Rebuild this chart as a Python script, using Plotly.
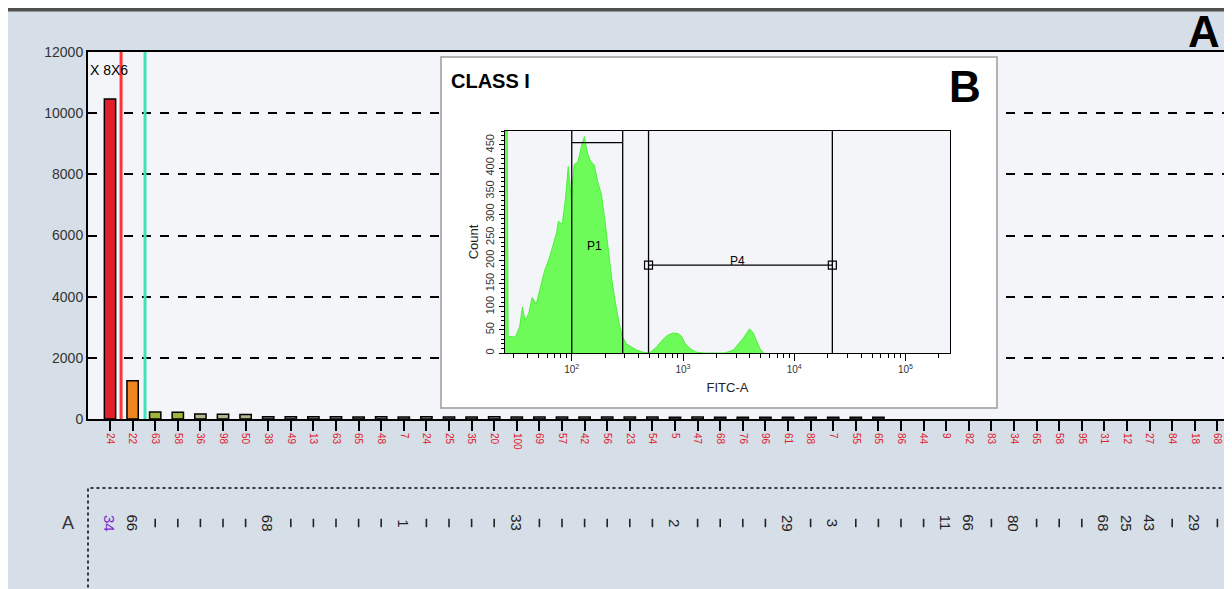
import plotly.graph_objects as go
import numpy as np

# ---------------- main bar chart data ----------------
cat_labels = ["24", "22", "63", "58", "36", "98", "50", "38", "49", "13",
              "63", "65", "48", "7", "24", "25", "35", "20", "100", "69",
              "57", "42", "56", "23", "54", "5", "47", "68", "76", "96",
              "61", "88", "7", "55", "65", "86", "44", "9", "82", "83",
              "34", "65", "58", "95", "31", "12", "27", "84", "18", "68"]
bar_values = [10460, 1250, 225, 220, 160, 155, 150,
              75, 70, 72, 70, 68, 70, 66, 70, 68, 65, 70, 66, 68,
              64, 66, 65, 62, 64, 60, 62, 60, 58, 60, 58, 55, 56, 55, 54,
              None, None, None, None, None, None, None, None, None, None,
              None, None, None, None, None]
bar_colors = (["#e2202a", "#f0861f", "#9fb43a", "#9fb43a",
               "#b3b68e", "#b3b68e", "#b3b68e"] + ["#a8a8a8"] * 43)
y_ticks = [0, 2000, 4000, 6000, 8000, 10000, 12000]
marker_lines = [0.49, 1.55]
marker_colors = ["#ff3333", "#3fe3b5"]

row_idx = [0, 1, 7, 13, 18, 25, 30, 32, 37, 38, 40, 44, 45, 46, 48]
row_text = ["34", "66", "68", "1", "33", "2", "29", "3", "11", "66",
            "80", "68", "25", "43", "29"]

# ---------------- inset histogram data ----------------
fitc = [24.5, 25.2, 26.3, 26.8, 28, 31, 34, 36, 38, 41, 44, 48, 53, 57,
        63, 68, 73, 76, 82, 88, 93, 99, 105, 114, 123, 130, 137, 148, 159,
        171, 185, 199, 214, 230, 248, 267, 287, 309, 345, 386, 431, 500,
        579, 647, 723, 808, 902, 971, 1045, 1167, 1303, 1511, 2353, 2831,
        3162, 3533, 3948, 4250, 4571, 4920, 5297]
counts = [500, 500, 500, 34, 36, 34, 56, 99, 70, 85, 120, 106, 149, 178,
          206, 235, 260, 285, 278, 335, 403, 335, 407, 414, 450, 468, 436,
          414, 407, 371, 342, 285, 221, 156, 106, 63, 34, 20, 13, 6, 2, 0,
          13, 27, 38, 43, 42, 36, 20, 9, 2, 0, 0, 6, 20, 34, 52, 45, 27, 9, 0]
p1_gate = [100, 287]
p1_level = 455
p4_gate = [490, 22000]
p4_level = 190
count_ticks = [0, 50, 100, 150, 200, 250, 300, 350, 400, 450]
fitc_ticks = [100, 1000, 10000, 100000]
fitc_ticktext = ["10<sup>2</sup>", "10<sup>3</sup>", "10<sup>4</sup>", "10<sup>5</sup>"]

FONT = "Liberation Sans, Arial, sans-serif"
W, H = 1232, 589
OFF = 8                      # page body margin
L_M, T_M = 88 - OFF, 52 - OFF
PW = W - L_M
PH = H - T_M
BG = "#d6dee8"


def px2x(px):                # page x -> paper x
    return (px - OFF - L_M) / PW


def py2y(py):                # page y -> paper y
    return (H - (py - OFF)) / PH


def px2i(px):                # page x -> category units
    return (px - 110) / 22.6


def py2v(py):                # page y -> main value units
    return (419 - py) * 12000 / 367


idx = list(range(len(cat_labels)))
row_top = 440
row_y = 523

fig = go.Figure()

fig.add_trace(go.Bar(
    x=idx, y=bar_values, width=0.5,
    marker=dict(color=bar_colors, line=dict(color="black", width=1.5)),
    xaxis="x", yaxis="y", showlegend=False))

tick_idx = [i for i in idx if i not in row_idx]
row_val = (H + OFF - row_y) / (H + OFF - row_top)
fig.add_trace(go.Scatter(
    x=tick_idx, y=[row_val] * len(tick_idx), mode="markers",
    marker=dict(symbol="line-ns", size=6, color="#222222",
                line=dict(color="#222222", width=1.6)),
    xaxis="x", yaxis="y3", showlegend=False, cliponaxis=False))

fig.add_trace(go.Scatter(
    x=fitc, y=counts, mode="lines", fill="tozeroy",
    line=dict(color="#4cf03a", width=1), fillcolor="#6dfb5a",
    xaxis="x2", yaxis="y2", showlegend=False))
for g in p1_gate + p4_gate:
    fig.add_trace(go.Scatter(x=[g, g], y=[0, 480], mode="lines",
                             line=dict(color="black", width=1.3),
                             xaxis="x2", yaxis="y2", showlegend=False))
fig.add_trace(go.Scatter(x=p1_gate, y=[p1_level] * 2, mode="lines",
                         line=dict(color="black", width=1.3),
                         xaxis="x2", yaxis="y2", showlegend=False))
fig.add_trace(go.Scatter(x=p4_gate, y=[p4_level] * 2, mode="lines+markers",
                         line=dict(color="black", width=1.3),
                         marker=dict(symbol="square-open", size=8,
                                     color="black", line=dict(width=1.2)),
                         xaxis="x2", yaxis="y2", showlegend=False))

minor_vals = [m * 10 ** e for e in range(1, 6) for m in range(2, 10)
              if 25 < m * 10 ** e < 250000]

shapes = []
shapes.append(dict(type="rect", xref="paper", yref="paper",
                   x0=-0.1, x1=1.05, y0=-0.1, y1=py2y(420.5),
                   fillcolor=BG, line=dict(width=0), layer="below"))
shapes.append(dict(type="rect", xref="paper", yref="paper",
                   x0=-0.1, x1=1.05, y0=py2y(11.5), y1=1.2,
                   fillcolor="#505050", line=dict(width=0), layer="below"))
shapes.append(dict(type="rect", xref="x", yref="y",
                   x0=px2i(441), x1=px2i(997), y0=py2v(408), y1=py2v(57),
                   fillcolor="white", line=dict(color="#9a9a9a", width=1.5),
                   layer="between"))
for xv, c in zip(marker_lines, marker_colors):
    shapes.append(dict(type="line", xref="x", yref="y",
                       x0=xv, x1=xv, y0=0, y1=12000,
                       line=dict(color=c, width=3)))
shapes.append(dict(type="rect", xref="paper", yref="paper",
                   x0=0, x1=1.05, y0=-0.05, y1=py2y(488),
                   line=dict(color="black", width=1.5, dash="dot")))


def ann(x, y, text, size, color="black", xref="paper", yref="paper",
        xanchor="center", textangle=0):
    return dict(xref=xref, yref=yref, x=x, y=y, text=text, showarrow=False,
                xanchor=xanchor, yanchor="middle", textangle=textangle,
                font=dict(family=FONT, size=size, color=color))


annotations = [
    ann(px2x(88), py2y(70), "X 8X6", 14, xanchor="left"),
    ann(px2x(1204), py2y(31), "<b>A</b>", 44),
    ann(px2x(449), py2y(81), "<b>CLASS I</b>", 20, xanchor="left"),
    ann(px2x(965), py2y(86), "<b>B</b>", 44),
    ann(px2x(68), py2y(row_y), "A", 18, color="#333333"),
    ann(np.log10(159), 231, "P1", 12, xref="x2", yref="y2"),
    ann(np.log10(3100), p4_level + 8, "P4", 12, xref="x2", yref="y2"),
]
for i, (xi, t) in enumerate(zip(row_idx, row_text)):
    annotations.append(ann(xi, py2y(row_y), t, 15,
                           color="#7a2bd0" if i == 0 else "#222222",
                           xref="x", textangle=90))

fig.update_layout(
    width=W, height=H,
    margin=dict(l=L_M, r=0, t=T_M, b=0, autoexpand=False),
    paper_bgcolor=BG,
    plot_bgcolor="#f4f5f8",
    font=dict(family=FONT),
    showlegend=False,
    bargap=0.5,
    xaxis=dict(domain=[0, 1], range=[px2i(88), px2i(88 + PW)],
               tickvals=idx, ticktext=cat_labels, tickangle=90,
               tickfont=dict(family=FONT, size=10, color="#e0202a"),
               ticks="outside", ticklen=10, tickwidth=1.5, tickcolor="black",
               showline=True, linecolor="black", linewidth=2, mirror=True,
               showgrid=False, zeroline=False, anchor="y", automargin=False),
    yaxis=dict(domain=[py2y(419), 1], range=[0, 12000],
               tickvals=y_ticks, ticktext=[str(v) for v in y_ticks],
               tickfont=dict(family=FONT, size=14, color="#333333"),
               showline=True, linecolor="black", linewidth=2,
               showgrid=True, gridcolor="black", griddash="dash", gridwidth=1.5,
               zeroline=False, anchor="x", automargin=False),
    yaxis3=dict(domain=[0, py2y(row_top)], range=[0, 1], visible=False,
                showgrid=False, zeroline=False, anchor="x"),
    xaxis2=dict(domain=[px2x(505), px2x(950)], type="log", range=[1.40, 5.40],
                tickvals=fitc_ticks, ticktext=fitc_ticktext,
                tickfont=dict(family=FONT, size=10, color="#333333"),
                ticks="outside", ticklen=7, tickwidth=1.2, tickcolor="black",
                minor=dict(tickvals=minor_vals, ticks="outside", ticklen=4,
                           tickwidth=1, tickcolor="black", showgrid=False),
                showline=True, linecolor="black", linewidth=1.3, mirror=True,
                showgrid=False, zeroline=False, anchor="y2",
                title=dict(text="FITC-A", standoff=8,
                           font=dict(family=FONT, size=13, color="#222222")),
                automargin=False),
    yaxis2=dict(domain=[py2y(353), py2y(131)], range=[0, 480],
                tickvals=count_ticks, tickangle=-90,
                tickfont=dict(family=FONT, size=11, color="#333333"),
                ticks="outside", ticklen=5, tickwidth=1.2, tickcolor="black",
                minor=dict(dtick=10, ticks="outside", ticklen=3, tickwidth=1,
                           tickcolor="black", showgrid=False),
                showline=True, linecolor="black", linewidth=1.3, mirror=True,
                showgrid=False, zeroline=False, anchor="x2",
                title=dict(text="Count", standoff=2,
                           font=dict(family=FONT, size=13, color="#222222")),
                automargin=False),
    shapes=shapes,
    annotations=annotations,
)

fig.write_html("out.html")
